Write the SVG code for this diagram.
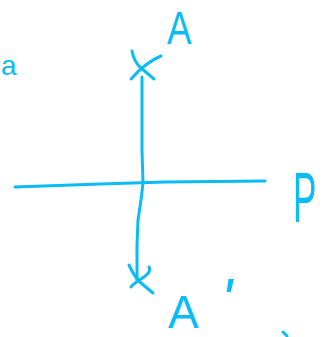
<svg xmlns="http://www.w3.org/2000/svg" width="334" height="337" viewBox="0 0 334 337">
<style>
.s{fill:none;stroke:#0abcf5;stroke-width:3;stroke-linecap:round;stroke-linejoin:round}
.t{fill:#0abcf5;font-family:"Liberation Sans","DejaVu Sans",sans-serif}
</style>
<rect width="334" height="337" fill="#ffffff"/>
<g id="sketch">
<path class="s" d="M15,187 L100,184 L165,182 L265,181"/>
<path class="s" d="M142,77 L142,150 L143,183 L141,200 L138,220 L137,245 L137,282"/>
<path class="s" d="M132,51 Q134,62 141,68 L154,79"/>
<path class="s" d="M161,56 Q146,62 131,79"/>
<path class="s" d="M129,265 Q135,278 141,283 L153,293"/>
<path class="s" d="M149,267 Q152,272 141,279 Q133,284 131,287"/>
<path class="s" d="M283,332 L287,336"/>
</g>
<g id="labels">
<text class="t" x="1" y="75" font-size="28">a</text>
<text class="t" x="167" y="44" font-size="46" transform="translate(167 44) scale(0.8 1) translate(-167 -44)">A</text>
<text class="t" x="293" y="222" font-size="70" transform="translate(293 222) scale(0.5 1) translate(-293 -222)">P</text>
<text class="t" x="168" y="328" font-size="46">A<tspan dx="22" dy="-8" font-size="60" font-style="italic">'</tspan></text>
</g>
</svg>
